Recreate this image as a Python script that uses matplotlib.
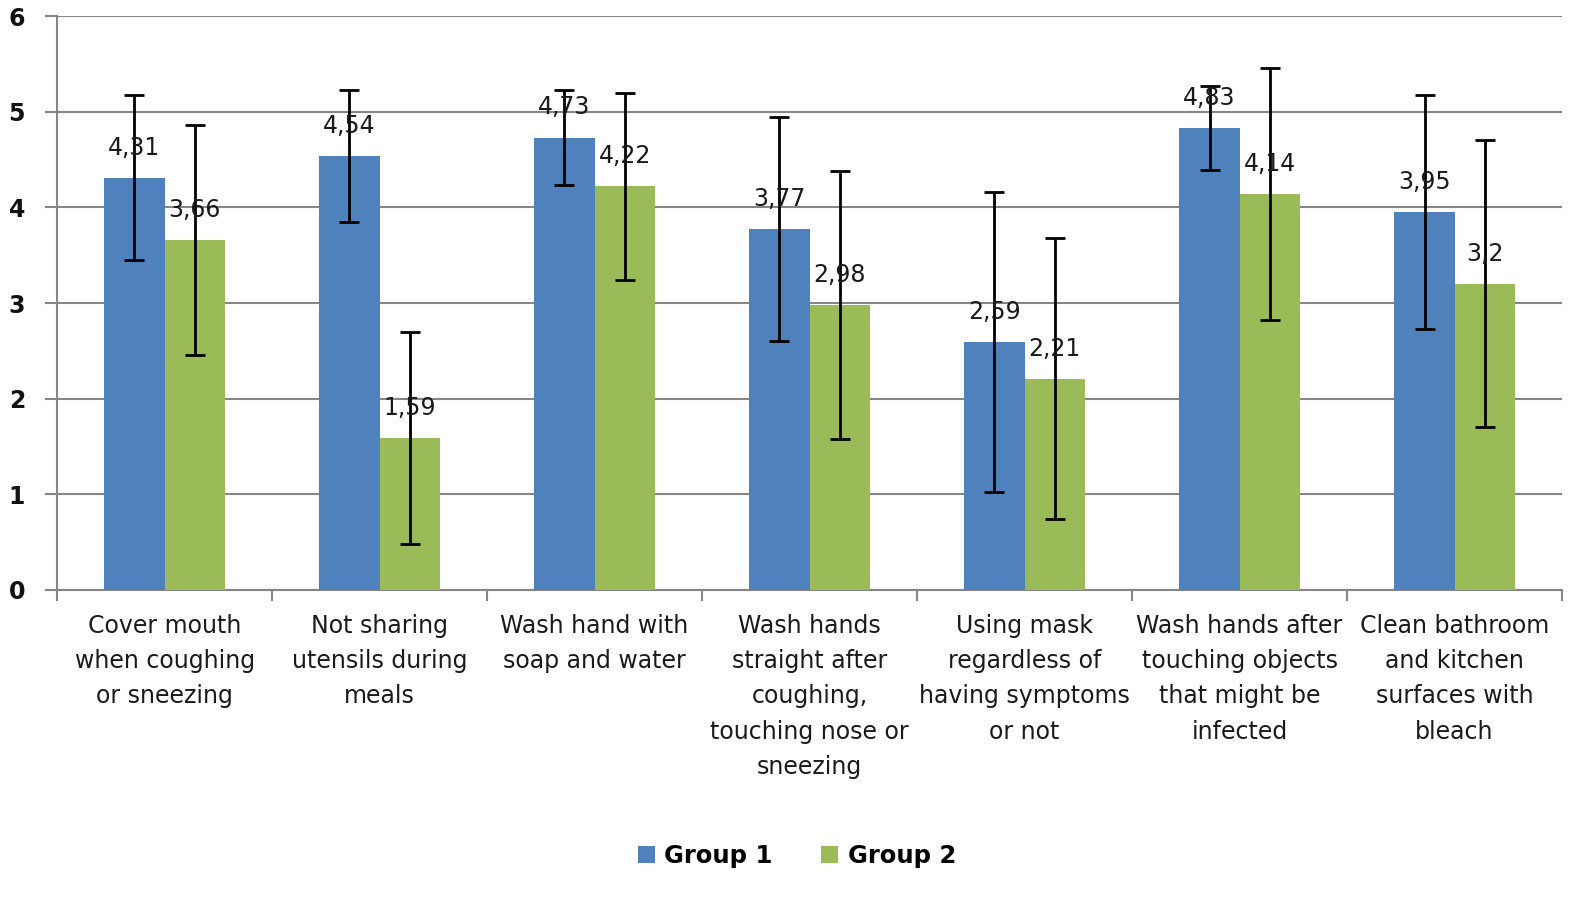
import matplotlib.pyplot as plt
import numpy as np

categories = [
    "Cover mouth\nwhen coughing\nor sneezing",
    "Not sharing\nutensils during\nmeals",
    "Wash hand with\nsoap and water",
    "Wash hands\nstraight after\ncoughing,\ntouching nose or\nsneezing",
    "Using mask\nregardless of\nhaving symptoms\nor not",
    "Wash hands after\ntouching objects\nthat might be\ninfected",
    "Clean bathroom\nand kitchen\nsurfaces with\nbleach",
]
group1 = [4.31, 4.54, 4.73, 3.77, 2.59, 4.83, 3.95]
group2 = [3.66, 1.59, 4.22, 2.98, 2.21, 4.14, 3.2]
group1_err = [0.86, 0.69, 0.50, 1.17, 1.57, 0.44, 1.22]
group2_err = [1.20, 1.11, 0.98, 1.40, 1.47, 1.32, 1.50]
group1_labels = ["4,31", "4,54", "4,73", "3,77", "2,59", "4,83", "3,95"]
group2_labels = ["3,66", "1,59", "4,22", "2,98", "2,21", "4,14", "3,2"]
yticks = [0, 1, 2, 3, 4, 5, 6]

blue = "#4F81BD"
green = "#9BBB59"
grid_col = "#868686"

fig = plt.figure(figsize=(15.94, 9.01), dpi=100)
ax = fig.add_axes([0.0358, 0.3452, 0.9442, 0.637])

x = np.arange(len(categories))
w = 0.28
ekw = dict(ecolor="black", elinewidth=2, capsize=7, capthick=2)
ax.bar(x - w / 2, group1, w, color=blue, yerr=group1_err, error_kw=ekw,
       label="Group 1", zorder=3)
ax.bar(x + w / 2, group2, w, color=green, yerr=group2_err, error_kw=ekw,
       label="Group 2", zorder=3)

for xi, v, t in zip(x - w / 2, group1, group1_labels):
    ax.annotate(t, (xi, v), xytext=(0, 13), textcoords="offset points",
                ha="center", va="bottom", fontsize=17, color="#1a1a1a", zorder=5)
for xi, v, t in zip(x + w / 2, group2, group2_labels):
    ax.annotate(t, (xi, v), xytext=(0, 13), textcoords="offset points",
                ha="center", va="bottom", fontsize=17, color="#1a1a1a", zorder=5)

ax.set_xlim(-0.5, len(categories) - 0.5)
ax.set_ylim(0, 6)
ax.set_yticks(yticks)
ax.set_yticklabels([str(t) for t in yticks], fontsize=17, fontweight="bold",
                   color="#111111")
ax.yaxis.grid(True, color=grid_col, linewidth=1.5, zorder=0)
ax.tick_params(axis="y", length=9, color=grid_col, width=1.5, pad=14)

ax.set_xticks(x)
ax.set_xticklabels(categories, fontsize=17, color="#1a1a1a", linespacing=1.6)
ax.tick_params(axis="x", length=0, pad=17)
ax.set_xticks(np.arange(-0.5, len(categories)), minor=True)
ax.tick_params(axis="x", which="minor", length=8, color=grid_col, width=1.5)

for s in ["top", "right"]:
    ax.spines[s].set_visible(False)
ax.spines["left"].set_color(grid_col)
ax.spines["bottom"].set_color(grid_col)
ax.spines["left"].set_linewidth(1.5)
ax.spines["bottom"].set_linewidth(1.5)

fig.legend(loc="lower center", bbox_to_anchor=(0.5, 0.012), ncol=2, frameon=False,
           prop={"size": 17.5, "weight": "bold"}, handlelength=0.7, handleheight=0.7,
           columnspacing=2.0, handletextpad=0.4)

fig.savefig("out.png", dpi=100)
